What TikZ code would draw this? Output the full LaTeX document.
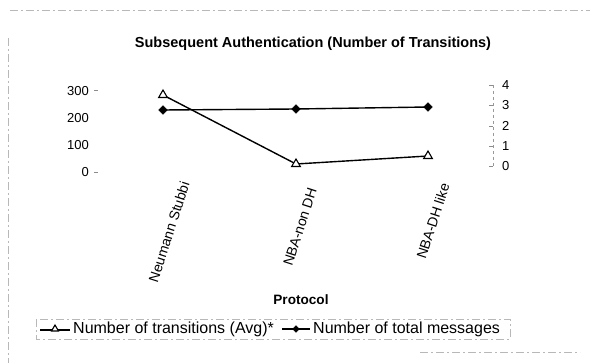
\documentclass[tikz,border=0pt]{standalone}
\usepackage{fontspec}
\setmainfont{Liberation Sans}
\usetikzlibrary{shapes.geometric}
\tikzset{
  frameline/.style={draw=black!28, dash pattern=on 8pt off 3pt on 2pt off 3pt, line width=0.6pt},
  serie/.style={draw=black, line width=1.4pt},
  tri/.style={draw=black, fill=white, isosceles triangle, isosceles triangle apex angle=60, shape border rotate=90, inner sep=0pt, minimum size=7.5pt, line width=1.1pt},
  dia/.style={draw=black, fill=black, diamond, inner sep=0pt, minimum size=9pt},
  numlbl/.style={font=\fontsize{13}{15}\selectfont, inner sep=0pt},
  catlbl/.style={font=\fontsize{14}{16}\selectfont, inner sep=0pt, rotate=72},
  leglbl/.style={font=\fontsize{16}{18}\selectfont, inner sep=0pt, anchor=west},
  tickmark/.style={draw=black!45, line width=0.6pt}
}
\begin{document}
\begin{tikzpicture}[x=1pt,y=-1pt]
\useasboundingbox (0,0) rectangle (592,363);
% outer frame remnants
\coordinate (ft1) at (10,10); \coordinate (ft2) at (590,10);
\coordinate (fl1) at (8,38); \coordinate (fl2) at (8,363);
\coordinate (fb1) at (420,352); \coordinate (fb2) at (580,352);
\draw[frameline] (ft1) -- (ft2);
\draw[frameline] (fl1) -- (fl2);
\draw[frameline] (fb1) -- (fb2);
% title
\node[font=\fontsize{14.5}{17}\selectfont\bfseries, inner sep=0pt] (title) at (313,44) {Subsequent Authentication (Number of Transitions)};
% left axis labels
\node[numlbl, anchor=east] (l300) at (89,91) {300};
\node[numlbl, anchor=east] (l200) at (89,118) {200};
\node[numlbl, anchor=east] (l100) at (89,145) {100};
\node[numlbl, anchor=east] (l0) at (89,172) {0};
\coordinate (lt3a) at (94,90); \coordinate (lt3b) at (98,90);
\coordinate (lt0a) at (94,172); \coordinate (lt0b) at (98,172);
\draw[tickmark] (lt3a) -- (lt3b);
\draw[tickmark] (lt0a) -- (lt0b);
% right axis
\coordinate (ra1) at (493,85); \coordinate (ra0) at (493,167);
\draw[draw=black!40, dashed, line width=0.6pt] (ra1) -- (ra0);
\foreach \v/\yy in {4/85,3/105,2/126,1/146,0/166}{
  \coordinate (rt\v a) at (489,\yy); \coordinate (rt\v b) at (493,\yy);
  \draw[tickmark] (rt\v a) -- (rt\v b);
  \node[numlbl, anchor=west] (r\v) at (502,\yy) {\v};
}
% series: number of total messages (diamonds)
\coordinate (d1c) at (163,110);
\coordinate (d2c) at (296,109);
\coordinate (d3c) at (428,107);
\draw[serie] (d1c) -- (d2c) -- (d3c);
\node[dia] (d1) at (d1c) {};
\node[dia] (d2) at (d2c) {};
\node[dia] (d3) at (d3c) {};
% series: number of transitions (triangles)
\coordinate (t1c) at (163,95);
\coordinate (t2c) at (296,164);
\coordinate (t3c) at (428,156);
\draw[serie] (t1c) -- (t2c) -- (t3c);
\node[tri] (t1) at (t1c) {};
\node[tri] (t2) at (t2c) {};
\node[tri] (t3) at (t3c) {};
% category labels
\node[catlbl] (c1) at (169,232) {Neumann Stubbi};
\node[catlbl] (c2) at (300,227) {NBA-non DH};
\node[catlbl] (c3) at (433,221) {NBA-DH like};
% axis title
\node[font=\fontsize{13.6}{16}\selectfont\bfseries, inner sep=0pt] (xt) at (301,300) {Protocol};
% legend
\draw[frameline] (36,319) rectangle (510,339);
\coordinate (lg1a) at (40,330); \coordinate (lg1b) at (70,330);
\draw[serie, line width=1.2pt] (lg1a) -- (lg1b);
\node[tri, minimum size=6pt] (lgt) at (55,329) {};
\node[leglbl] (lgtx1) at (73,329) {Number of transitions (Avg)*};
\coordinate (lg2a) at (282,329); \coordinate (lg2b) at (310,329);
\draw[serie, line width=1.2pt] (lg2a) -- (lg2b);
\node[dia, minimum size=7pt] (lgd) at (296,329) {};
\node[leglbl] (lgtx2) at (313,329) {Number of total messages};
\end{tikzpicture}
\end{document}
